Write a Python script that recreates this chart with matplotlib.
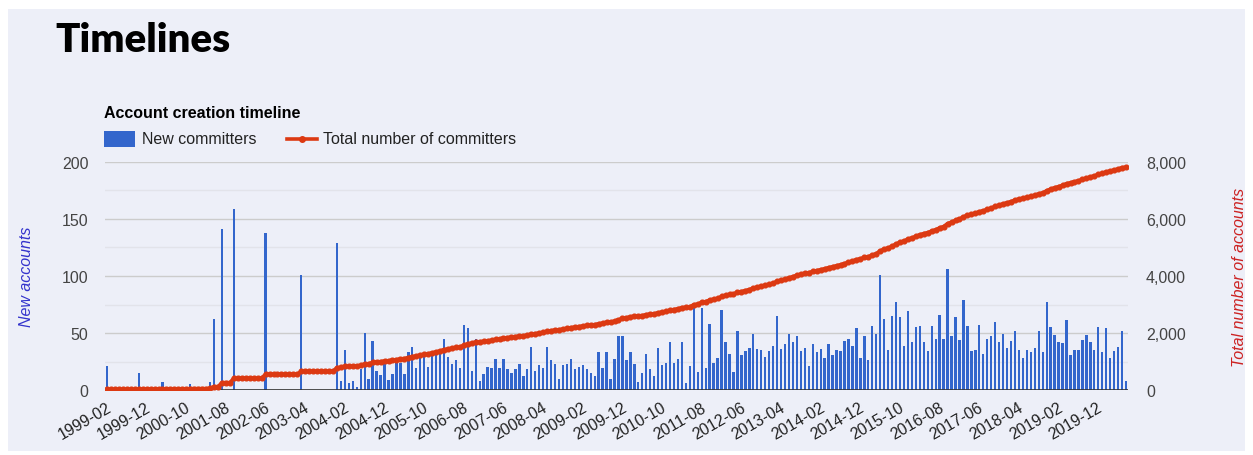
import matplotlib.pyplot as plt
import matplotlib.transforms as mtransforms
import numpy as np
from matplotlib.patches import Rectangle
from matplotlib.lines import Line2D

# monthly new committer accounts, 1999-02 .. 2020-07
new_committers = [
    21, 0, 0, 0, 0, 0, 0, 0, 15, 0, 0, 0, 0, 0, 7, 0, 0, 0, 0, 0,
    0, 5, 0, 0, 0, 0, 7, 62, 0, 141, 0, 0, 159, 0, 0, 0, 0, 0, 0, 0,
    138, 0, 0, 0, 0, 0, 0, 0, 0, 101, 0, 0, 0, 0, 0, 0, 0, 0,
    129, 8, 35, 6, 8, 3, 18,
    50, 10, 43, 17, 13, 23, 9, 14, 24, 24, 14, 33, 38, 19, 28, 30, 20, 31, 33, 34,
    45, 29, 23, 26, 19, 57, 54, 17, 45, 8, 14, 20,
    19, 27, 19, 27, 18, 15, 18, 23, 12, 18, 38, 17, 22, 19, 38, 26, 23, 10, 22, 23,
    27, 18, 20, 22, 18, 15, 12, 33, 19, 33, 10, 27, 47,
    47, 26, 33, 23, 7, 15, 32, 18, 12, 37, 22, 24, 42, 24, 27, 42, 6, 21, 74, 16,
    72, 19, 58, 24, 28, 70, 42, 32, 16, 52, 31, 34, 37,
    49, 36, 35, 29, 34, 39, 65, 36, 40, 49, 42, 47, 34, 37, 21, 40, 33, 36, 28, 40,
    31, 35, 34, 43, 45, 39, 54, 28, 47, 26, 56, 49, 101,
    62, 35, 65, 77, 64, 39, 69, 42, 55, 56, 42, 34, 56, 45, 66, 45, 106, 47, 64, 44,
    79, 56, 34, 35, 57, 32, 45, 47, 60, 42, 49, 37,
    43, 52, 35, 28, 35, 33, 37, 52, 33, 77, 55, 48, 42, 41, 61, 31, 35, 35, 44, 48,
    42, 35, 55, 33, 54, 28, 34, 38, 52, 8,
]

tick_labels = ["1999-02", "1999-12", "2000-10", "2001-08", "2002-06", "2003-04",
               "2004-02", "2004-12", "2005-10", "2006-08", "2007-06", "2008-04",
               "2009-02", "2009-12", "2010-10", "2011-08", "2012-06", "2013-04",
               "2014-02", "2014-12", "2015-10", "2016-08", "2017-06", "2018-04",
               "2019-02", "2019-12"]

left_ticks = [0, 50, 100, 150, 200]
right_ticks = [0, 2000, 4000, 6000, 8000]

new_committers = np.array(new_committers)
total_committers = np.cumsum(new_committers)
x = np.arange(len(new_committers))

W, H = 1253, 456
bg = "#EDEFF8"
blue = "#3366CC"
red = "#DC3912"
txt = "#444444"
font = "Liberation Sans"
fs = 11.5

fig = plt.figure(figsize=(W / 100, H / 100), dpi=100, facecolor="white")
fig.patches.append(Rectangle((8 / W, 4 / H), 1237 / W, 442 / H, transform=fig.transFigure,
                             facecolor=bg, edgecolor="none", zorder=-10))

ax = fig.add_axes([105 / W, 1 - 391 / H, 1023 / W, 228 / H])
ax.set_facecolor("none")
ax.bar(x, new_committers, width=0.6, color=blue, zorder=3)
ax.set_xlim(-0.5, len(x) - 0.5)
ax.set_ylim(0, 200)
ax.set_yticks(left_ticks)
ax.set_yticks([25, 75, 125, 175], minor=True)
ax.grid(axis="y", which="major", color="#CCCCCC", linewidth=1, zorder=0)
ax.grid(axis="y", which="minor", color="#E2E3EA", linewidth=1, zorder=0)
ax.axhline(0, color="#333333", linewidth=1.2, zorder=4)
for s in ax.spines.values():
    s.set_visible(False)
ax.tick_params(axis="y", which="both", length=0, pad=12, labelsize=fs, labelcolor=txt)
for lab in ax.get_yticklabels():
    lab.set_family(font)
ax.set_xticks(x[::10][:len(tick_labels)])
ax.set_xticklabels(tick_labels, rotation=30, ha="right", rotation_mode="anchor",
                   fontsize=11.5, color="#222222", family=font)
ax.tick_params(axis="x", length=0, pad=7)
shift = mtransforms.ScaledTranslation(-1 / 100, 0, fig.dpi_scale_trans)
for lab in ax.get_xticklabels():
    lab.set_transform(lab.get_transform() + shift)

ax2 = ax.twinx()
ax2.set_ylim(0, 8000)
ax2.set_yticks(right_ticks)
ax2.set_yticklabels([f"{v:,}" for v in right_ticks], family=font)
ax2.plot(x, total_committers, color=red, linewidth=2.6, marker="o", markersize=3.4,
         zorder=5)
for s in ax2.spines.values():
    s.set_visible(False)
ax2.tick_params(axis="y", length=0, pad=13, labelsize=fs, labelcolor=txt)

fig.text(27 / W, 1 - 277 / H, "New accounts", rotation=90, ha="center", va="center",
         style="italic", fontsize=fs, color="#3333CC", family=font)
fig.text(1240 / W, 1 - 277 / H, "Total number of accounts", rotation=90, ha="center",
         va="center", style="italic", fontsize=fs, color="#CC2222", family=font)

fig.text(55 / W, 1 - 41 / H, "Timelines", ha="left", va="center", fontsize=29,
         fontweight="heavy", family="Lato", color="black")
fig.text(104 / W, 1 - 114 / H, "Account creation timeline", ha="left", va="center",
         fontsize=fs, fontweight="bold", family=font, color="black")

fig.patches.append(Rectangle((104 / W, 1 - 148 / H), 31 / W, 16 / H,
                             transform=fig.transFigure, facecolor=blue, edgecolor="none"))
fig.text(142 / W, 1 - 140 / H, "New committers", ha="left", va="center",
         fontsize=fs, family=font, color="#222222")
fig.lines.append(Line2D([287 / W, 317 / W], [1 - 140 / H, 1 - 140 / H],
                        transform=fig.transFigure, color=red, linewidth=2.6))
fig.lines.append(Line2D([302 / W], [1 - 140 / H], transform=fig.transFigure,
                        color=red, marker="o", markersize=4))
fig.text(323 / W, 1 - 140 / H, "Total number of committers", ha="left", va="center",
         fontsize=fs, family=font, color="#222222")

fig.savefig("out.png", dpi=100, facecolor="white")
